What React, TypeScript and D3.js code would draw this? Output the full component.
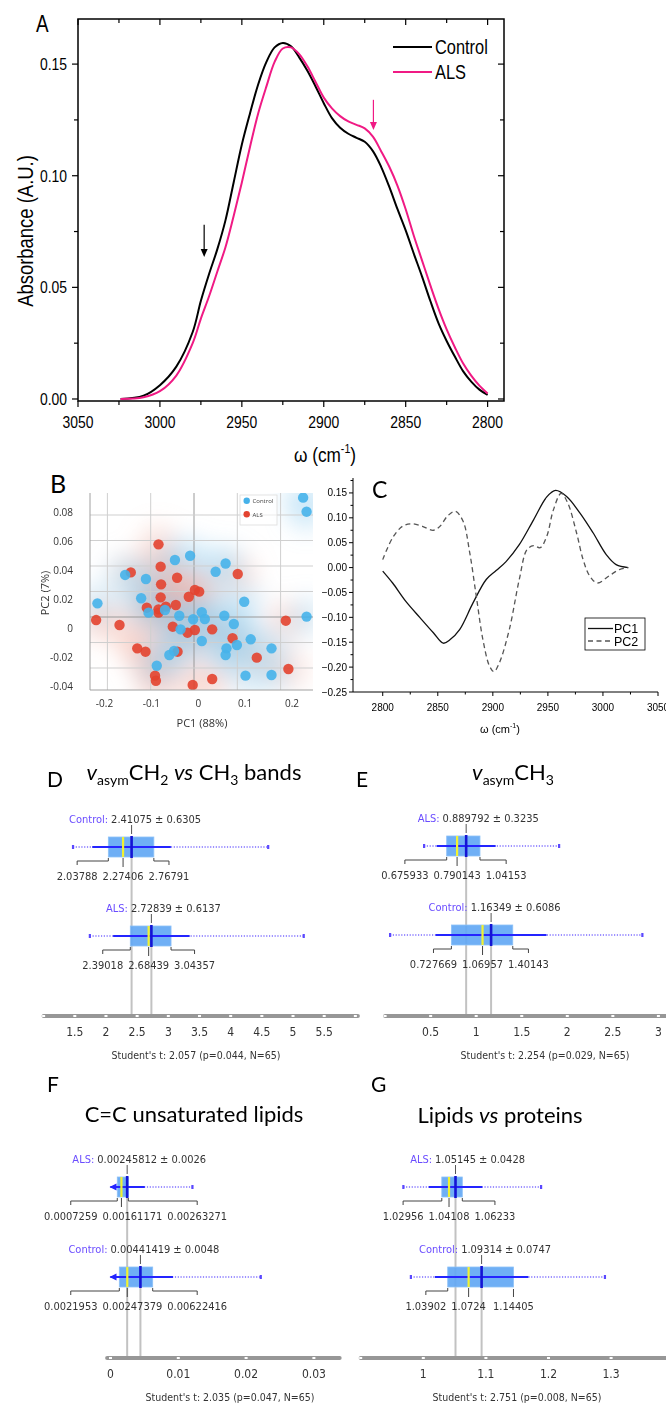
import React from 'react';
import * as d3 from 'd3';

// ---------- A: mean spectra (absorbance vs wavenumber) ----------
const waveA = [3024, 3010, 3000, 2990, 2980, 2975, 2970, 2965, 2960, 2955, 2950, 2945, 2940, 2935, 2930, 2925, 2920, 2915, 2910, 2905, 2900, 2895, 2890, 2885, 2880, 2875, 2870, 2865, 2860, 2855, 2850, 2845, 2840, 2835, 2830, 2825, 2820, 2815, 2810, 2805, 2800];
const controlA = [0, 0.0015, 0.0062, 0.0145, 0.030, 0.044, 0.056, 0.067, 0.080, 0.097, 0.114, 0.128, 0.141, 0.151, 0.1575, 0.1595, 0.158, 0.153, 0.147, 0.140, 0.1325, 0.1258, 0.1215, 0.1188, 0.117, 0.1152, 0.111, 0.104, 0.095, 0.085, 0.0755, 0.065, 0.0548, 0.044, 0.034, 0.026, 0.019, 0.0125, 0.0078, 0.0042, 0.0018];
const alsA = [0, 0.0008, 0.0035, 0.0105, 0.025, 0.036, 0.046, 0.057, 0.068, 0.082, 0.097, 0.113, 0.128, 0.140, 0.151, 0.157, 0.1575, 0.1545, 0.149, 0.142, 0.135, 0.1302, 0.1267, 0.1243, 0.1228, 0.1212, 0.1175, 0.111, 0.104, 0.0955, 0.085, 0.073, 0.062, 0.051, 0.0405, 0.0312, 0.0232, 0.016, 0.0105, 0.006, 0.0025];
const aXTicks = [3050, 3000, 2950, 2900, 2850, 2800];
const aXMinor = [3025, 2975, 2925, 2875, 2825];
const aYTicks = [0, 0.05, 0.10, 0.15];
const aYMinor = [0.025, 0.075, 0.125];
// arrows: wavenumber, start absorbance, tip absorbance
const arrowW = [2973, 2869.7];
const arrowFrom = [0.078, 0.134];
const arrowTo = [0.0636, 0.1205];

// ---------- B: PCA scores ----------
const controlPC1 = [0.252, 0.260, -0.044, -0.009, 0.073, 0.050, -0.159, -0.111, -0.122, -0.223, 0.116, -0.105, -0.067, -0.034, 0.018, 0.025, -0.002, 0.070, 0.260, 0.092, -0.031, 0.018, 0.131, 0.099, 0.075, 0.073, 0.179, -0.046, -0.057, -0.086, 0.119, 0.179];
const controlPC2 = [0.0936, 0.0826, 0.0447, 0.048, 0.042, 0.0355, 0.033, 0.0298, 0.0147, 0.0107, 0.012, 0.0034, 0.0055, 0.001, 0.0037, -0.0016, -0.0018, 0.001, 0.0003, -0.0055, -0.0097, -0.0188, -0.0175, -0.022, -0.0246, -0.0298, -0.0246, -0.0267, -0.0298, -0.0382, -0.046, -0.0455];
const alsPC1 = [-0.082, -0.146, -0.077, -0.039, 0.101, -0.076, 0.002, 0.012, -0.012, -0.077, -0.109, -0.042, -0.065, -0.082, -0.082, -0.226, -0.172, -0.049, 0.002, -0.015, 0.042, 0.212, 0.089, -0.131, -0.112, -0.038, 0.145, 0.218, -0.090, -0.088, -0.003, 0.042];
const alsPC2 = [0.057, 0.035, 0.0395, 0.0308, 0.0337, 0.0256, 0.0212, 0.0199, 0.0159, 0.0154, 0.0073, 0.0094, 0.0081, 0.006, 0.0034, -0.0024, -0.0063, -0.0076, -0.0102, -0.0123, -0.0097, -0.0029, -0.0167, -0.0246, -0.0272, -0.0272, -0.0319, -0.0408, -0.046, -0.050, -0.0533, -0.0486];
const bXTicks = [-0.2, -0.1, 0, 0.1, 0.2];
const bYTicks = [-0.04, -0.02, 0, 0.02, 0.04, 0.06, 0.08];
const bYLabels = ['-0.04', '-0.02', '0', '0.02', '0.04', '0.06', '0.08'];

// ---------- C: PCA loadings ----------
const pc1Load = [[2800, -0.007], [2809, -0.031], [2821, -0.068], [2834, -0.101], [2846, -0.131], [2855, -0.152], [2861, -0.145], [2870, -0.124], [2882, -0.071], [2894, -0.024], [2903, -0.006], [2912, 0.012], [2924, 0.046], [2937, 0.096], [2949, 0.142], [2957, 0.155], [2967, 0.143], [2979, 0.11], [2991, 0.07], [3003, 0.026], [3012, 0.006], [3023, 0.0]];
const pc2Load = [[2800, 0.016], [2809, 0.06], [2818, 0.083], [2826, 0.088], [2836, 0.083], [2846, 0.075], [2852, 0.083], [2859, 0.104], [2866, 0.113], [2873, 0.093], [2879, 0.03], [2885, -0.058], [2891, -0.145], [2897, -0.198], [2901, -0.209], [2906, -0.191], [2915, -0.124], [2924, -0.024], [2931, 0.036], [2937, 0.044], [2943, 0.040], [2949, 0.063], [2955, 0.116], [2962, 0.149], [2968, 0.13], [2976, 0.07], [2982, 0.016], [2988, -0.017], [2995, -0.031], [3006, -0.016], [3015, -0.004], [3023, 0.0]];
const cXTicks = [2800, 2850, 2900, 2950, 3000, 3050];
const cXMinor = [2825, 2875, 2925, 2975, 3025];
const cYTicks = [-0.25, -0.2, -0.15, -0.1, -0.05, 0, 0.05, 0.1, 0.15];
const cYMinor = [-0.225, -0.175, -0.125, -0.075, -0.025, 0.025, 0.075, 0.125, 0.175];

// ---------- D-G: box plots ----------
const dStats = [
  { group: 'Control', mean: 2.41075, sd: 0.6305, q1: 2.03788, median: 2.27406, q3: 2.76791, min: 1.47, max: 4.60, qText: ['2.03788', '2.27406', '2.76791'] },
  { group: 'ALS', mean: 2.72839, sd: 0.6137, q1: 2.39018, median: 2.68439, q3: 3.04357, min: 1.74, max: 5.17, qText: ['2.39018', '2.68439', '3.04357'] },
];
const eStats = [
  { group: 'ALS', mean: 0.889792, sd: 0.3235, q1: 0.675933, median: 0.790143, q3: 1.04153, min: 0.427, max: 1.909, qText: ['0.675933', '0.790143', '1.04153'] },
  { group: 'Control', mean: 1.16349, sd: 0.6086, q1: 0.727669, median: 1.06957, q3: 1.40143, min: 0.054, max: 2.823, qText: ['0.727669', '1.06957', '1.40143'] },
];
const fStats = [
  { group: 'ALS', mean: 0.00245812, sd: 0.0026, q1: 0.0010, median: 0.00161171, q3: 0.00263271, min: 0, max: 0.01207, qText: ['0.0007259', '0.00161171', '0.00263271'] },
  { group: 'Control', mean: 0.00441419, sd: 0.0048, q1: 0.0013, median: 0.00247379, q3: 0.00622416, min: 0, max: 0.02215, qText: ['0.0021953', '0.00247379', '0.00622416'] },
];
const gStats = [
  { group: 'ALS', mean: 1.05145, sd: 0.0428, q1: 1.02956, median: 1.04108, q3: 1.06233, min: 0.968, max: 1.188, qText: ['1.02956', '1.04108', '1.06233'] },
  { group: 'Control', mean: 1.09314, sd: 0.0747, q1: 1.03902, median: 1.0724, q3: 1.14405, min: 0.980, max: 1.290, qText: ['1.03902', '1.0724', '1.14405'] },
];
const dTicks = [1.5, 2, 2.5, 3, 3.5, 4, 4.5, 5, 5.5];
const eTicks = [0.5, 1, 1.5, 2, 2.5, 3];
const fTicks = [0, 0.01, 0.02, 0.03];
const gTicks = [1, 1.1, 1.2, 1.3];

const PINK = '#f01a84';
const ARIAL = "'Liberation Sans', Arial, sans-serif";
const SMALL = "'DejaVu Sans Condensed', 'Liberation Sans', sans-serif";
const TITLE = "Lato, 'Open Sans', sans-serif";

let measureCtx: CanvasRenderingContext2D | null = null;
function textW(s: string, size: number) {
  if (!measureCtx) measureCtx = document.createElement('canvas').getContext('2d');
  measureCtx!.font = `${size}px ${SMALL}`;
  return measureCtx!.measureText(s).width;
}

// panel A text is narrow (condensed) in the original
const narrow = (x: number, y: number, rot = 0) => `translate(${x},${y}) rotate(${rot}) scale(0.82,1)`;

function PanelA() {
  const x = d3.scaleLinear().domain([3050, 2790]).range([78, 504]);
  const y = d3.scaleLinear().domain([-0.0009, 0.1702]).range([401, 19]);
  const line = d3.line<number>().x((_, i) => x(waveA[i])).y(d => y(d)).curve(d3.curveCatmullRom.alpha(0.5));
  const fy = d3.format('.2f');
  const [l, r, t, b] = [78, 504, 19, 401];
  return (
    <g>
      <text transform={narrow(36, 32)} fontFamily={ARIAL} fontSize={23}>A</text>
      <rect x={l} y={t} width={r - l} height={b - t} fill="none" stroke="#000" strokeWidth={1.5} />
      {aXTicks.concat(aXMinor).map((v, i) => {
        const len = i < aXTicks.length ? 6 : 4;
        return (
          <g key={'xt' + i}>
            <line x1={x(v)} x2={x(v)} y1={b} y2={b + len} stroke="#000" strokeWidth={1.2} />
            <line x1={x(v)} x2={x(v)} y1={t} y2={t + len} stroke="#000" strokeWidth={1.2} />
          </g>
        );
      })}
      {aYTicks.concat(aYMinor).map((v, i) => {
        const len = i < aYTicks.length ? 6 : 4;
        return (
          <g key={'yt' + i}>
            <line x1={l - len} x2={l} y1={y(v)} y2={y(v)} stroke="#000" strokeWidth={1.2} />
            <line x1={r - len} x2={r} y1={y(v)} y2={y(v)} stroke="#000" strokeWidth={1.2} />
          </g>
        );
      })}
      {aXTicks.map(v => (
        <text key={'xl' + v} transform={narrow(x(v), 428)} textAnchor="middle" fontFamily={ARIAL} fontSize={17}>{v}</text>
      ))}
      {aYTicks.map(v => (
        <text key={'yl' + v} transform={narrow(67, y(v) + 6)} textAnchor="end" fontFamily={ARIAL} fontSize={17}>{fy(v)}</text>
      ))}
      <text transform={narrow(33, 231, -90)} textAnchor="middle" fontFamily={ARIAL} fontSize={22.5}>Absorbance (A.U.)</text>
      <text transform={narrow(325, 462)} textAnchor="middle" fontFamily={ARIAL} fontSize={21}>
        ω (cm<tspan fontSize={13} dy={-9}>-1</tspan><tspan dy={9}>)</tspan>
      </text>
      <path d={line(controlA)!} fill="none" stroke="#000" strokeWidth={2} />
      <path d={line(alsA)!} fill="none" stroke={PINK} strokeWidth={2} />
      {arrowW.map((w, i) => {
        const c = i === 0 ? '#000' : PINK;
        const ax = x(w), y0 = y(arrowFrom[i]), y1 = y(arrowTo[i]);
        return (
          <g key={'ar' + i}>
            <line x1={ax} x2={ax} y1={y0} y2={y1 - 6} stroke={c} strokeWidth={1.2} />
            <path d={`M${ax - 3.5},${y1 - 8}L${ax + 3.5},${y1 - 8}L${ax},${y1}Z`} fill={c} />
          </g>
        );
      })}
      <line x1={393} x2={432} y1={47} y2={47} stroke="#000" strokeWidth={2} />
      <line x1={393} x2={432} y1={72} y2={72} stroke={PINK} strokeWidth={2} />
      <text transform={narrow(435, 54)} fontFamily={ARIAL} fontSize={20}>Control</text>
      <text transform={narrow(435, 79)} fontFamily={ARIAL} fontSize={20}>ALS</text>
    </g>
  );
}

function PanelB() {
  const [l, r, t, b] = [90, 313, 493, 690];
  const x = d3.scaleLinear().domain([-0.2, 0.2]).range([107.4, 280.6]);
  const y = d3.scaleLinear().domain([-0.04, 0.08]).range([668, 515]);
  // the printed tick labels sit on a slightly different scale than the grid
  const xl = d3.scaleLinear().domain([-0.2, 0.2]).range([104.5, 292]);
  const yl = d3.scaleLinear().domain([-0.04, 0.08]).range([686, 512]);
  const ctrl = controlPC1.map((v, i) => [v, controlPC2[i]]);
  const als = alsPC1.map((v, i) => [v, alsPC2[i]]);
  const font = "'Open Sans', 'Noto Sans', sans-serif";
  return (
    <g>
      <defs>
        <clipPath id="clipB"><rect x={l} y={t} width={r - l} height={b - t} /></clipPath>
        <filter id="blurB" filterUnits="userSpaceOnUse" x={l - 60} y={t - 60} width={r - l + 120} height={b - t + 120}>
          <feGaussianBlur stdDeviation={11} />
        </filter>
      </defs>
      <text x={50} y={493} fontFamily={TITLE} fontSize={25}>B</text>
      <g clipPath="url(#clipB)">
        <rect x={l} y={t} width={r - l} height={b - t} fill="#fff" />
        <g filter="url(#blurB)">
          {als.map((d, i) => <circle key={'ba' + i} cx={x(d[0])} cy={y(d[1])} r={20} fill="#f0a090" opacity={0.28} />)}
          {ctrl.map((d, i) => <circle key={'bc' + i} cx={x(d[0])} cy={y(d[1])} r={20} fill="#92cdee" opacity={0.3} />)}
        </g>
        {bXTicks.map(v => <line key={'gx' + v} x1={x(v)} x2={x(v)} y1={t} y2={b} stroke={v === 0 ? '#9a9a9a' : '#cfcfcf'} strokeWidth={1} />)}
        {bYTicks.map(v => <line key={'gy' + v} x1={l} x2={r} y1={y(v)} y2={y(v)} stroke={v === 0 ? '#9a9a9a' : '#cfcfcf'} strokeWidth={1} />)}
        {als.map((d, i) => <circle key={'pa' + i} cx={x(d[0])} cy={y(d[1])} r={5.2} fill="#e3432f" fillOpacity={0.9} />)}
        {ctrl.map((d, i) => <circle key={'pc' + i} cx={x(d[0])} cy={y(d[1])} r={5.2} fill="#46b2ea" fillOpacity={0.9} />)}
      </g>
      <line x1={l} x2={l} y1={t} y2={b} stroke="#a0a0a0" />
      <line x1={l} x2={r} y1={b} y2={b} stroke="#a0a0a0" />
      <rect x={240} y={495} width={37} height={30} fill="#fff" fillOpacity={0.6} stroke="#ddd" strokeWidth={0.8} />
      <circle cx={246.7} cy={500.7} r={3.2} fill="#46b2ea" />
      <circle cx={246.7} cy={514.3} r={3.2} fill="#e3432f" />
      <text x={252.5} y={503} fontFamily={font} fontSize={6} fill="#444">Control</text>
      <text x={252.5} y={516.5} fontFamily={font} fontSize={6} fill="#444">ALS</text>
      {bXTicks.map(v => <text key={'xl' + v} x={xl(v)} y={707} textAnchor="middle" fontFamily={font} fontSize={10} fill="#333">{String(v)}</text>)}
      {bYTicks.map((v, i) => <text key={'yl' + v} x={73} y={yl(v) + 3.5} textAnchor="end" fontFamily={font} fontSize={10} fill="#333">{bYLabels[i]}</text>)}
      <text x={202} y={727} textAnchor="middle" fontFamily={font} fontSize={11} fill="#333">PC1 (88%)</text>
      <text transform="translate(49,593) rotate(-90)" textAnchor="middle" fontFamily={font} fontSize={11} fill="#333">PC2 (7%)</text>
    </g>
  );
}

function PanelC() {
  const x = d3.scaleLinear().domain([2773, 3050]).range([353, 658]);
  const y = d3.scaleLinear().domain([-0.25, 0.18]).range([692, 478]);
  const ln = d3.line<number[]>().x(d => x(d[0])).y(d => y(d[1])).curve(d3.curveCatmullRom.alpha(0.5));
  const fy = d3.format('.2f');
  return (
    <g fontFamily={ARIAL}>
      <text x={372} y={498} fontFamily={TITLE} fontSize={23}>C</text>
      <line x1={353} x2={353} y1={478} y2={692} stroke="#000" strokeWidth={1} />
      <line x1={353} x2={658} y1={692} y2={692} stroke="#000" strokeWidth={1} />
      {cYTicks.map(v => <line key={'yt' + v} x1={349} x2={353} y1={y(v)} y2={y(v)} stroke="#000" />)}
      {cYMinor.map(v => <line key={'ym' + v} x1={350.5} x2={353} y1={y(v)} y2={y(v)} stroke="#000" />)}
      {cXTicks.map(v => <line key={'xt' + v} x1={x(v)} x2={x(v)} y1={692} y2={696} stroke="#000" />)}
      {cXMinor.map(v => <line key={'xm' + v} x1={x(v)} x2={x(v)} y1={692} y2={694.5} stroke="#000" />)}
      {cYTicks.map(v => <text key={'yl' + v} x={347} y={y(v) + 3.5} textAnchor="end" fontSize={10}>{fy(v)}</text>)}
      {cXTicks.map(v => <text key={'xl' + v} x={x(v)} y={711} textAnchor="middle" fontSize={10}>{v}</text>)}
      <text x={500} y={733} textAnchor="middle" fontSize={11}>
        ω (cm<tspan fontSize={7} dy={-5}>-1</tspan><tspan dy={5}>)</tspan>
      </text>
      <path d={ln(pc1Load)!} fill="none" stroke="#111" strokeWidth={1.3} />
      <path d={ln(pc2Load)!} fill="none" stroke="#555" strokeWidth={1.3} strokeDasharray="5,3.5" />
      <rect x={585} y={618} width={60} height={32} fill="#fff" stroke="#000" strokeWidth={0.8} />
      <line x1={588} x2={613} y1={628.5} y2={628.5} stroke="#111" strokeWidth={1.3} />
      <line x1={588} x2={613} y1={641} y2={641} stroke="#555" strokeWidth={1.3} strokeDasharray="5,3.5" />
      <text x={614} y={633} fontSize={12.5}>PC1</text>
      <text x={614} y={645.5} fontSize={12.5}>PC2</text>
    </g>
  );
}

type Stat = { group: string; mean: number; sd: number; q1: number; median: number; q3: number; min: number; max: number; qText: string[] };
type BoxCfg = {
  letter: string; letterX: number; letterY: number; title: React.ReactNode;
  stats: Stat[]; tops: number[]; domain: number[]; range: number[]; extent: number[]; step: number;
  ticks: number[]; axisY: number; caption: string; captionX: number; leftBound: number; clipMin: number;
};

function BoxPanel({ cfg }: { cfg: BoxCfg }) {
  const x = d3.scaleLinear().domain(cfg.domain).range(cfg.range);
  const H = 20;
  const LF = 11;
  const gaps = d3.range(Math.round(cfg.extent[0] / cfg.step), Math.floor(cfg.extent[1] / cfg.step + 1e-6) + 1).map(k => k * cfg.step);
  return (
    <g>
      <text x={cfg.letterX} y={cfg.letterY} fontFamily={TITLE} fontSize={21}>{cfg.letter}</text>
      {cfg.title}
      {cfg.stats.map((s, i) => (
        <line key={'gl' + i} x1={x(s.mean)} x2={x(s.mean)} y1={cfg.tops[i] + H} y2={cfg.axisY} stroke="#c2c2c2" strokeWidth={2} />
      ))}
      {cfg.stats.map((s, i) => {
        const T = cfg.tops[i];
        const cy = T + H / 2;
        const mx = x(s.mean);
        const loRaw = s.mean - s.sd;
        const clipped = loRaw < cfg.clipMin;
        const lo = x(clipped ? cfg.clipMin : loRaw);
        const hi = x(s.mean + s.sd);
        const meanTxt = String(s.mean);
        const wMean = textW(meanTxt, LF);
        const wq = s.qText.map(q => textW(q, LF));
        const g = 5;
        const xq1 = x(s.q1), xmd = x(s.median), xq3 = x(s.q3);
        let c1 = Math.min(xq1, xmd - wq[1] / 2 - g - wq[0] / 2);
        c1 = Math.max(c1, cfg.leftBound + wq[0] / 2);
        const cm = Math.max(xmd, c1 + wq[0] / 2 + g + wq[1] / 2);
        const c3 = Math.max(xq3, cm + wq[1] / 2 + g + wq[2] / 2);
        const by = T + H + 4;
        const br = (edge: number, c: number) => Math.abs(c - edge) > 0.5
          ? `M${edge},${T + H + 1}V${by}H${c}V${by + 4}`
          : `M${edge},${T + H + 2}V${T + H + 10}`;
        return (
          <g key={'row' + i}>
            <line x1={x(s.min)} x2={x(s.max)} y1={cy} y2={cy} stroke="#7d6dff" strokeWidth={1.6} strokeDasharray="1.2,1.6" />
            {s.min > cfg.clipMin - 1e-9 && !clipped && <rect x={x(s.min) - 1} y={cy - 2} width={2.2} height={4} fill="#5a48ff" />}
            <rect x={x(s.max) - 1} y={cy - 2} width={2.2} height={4} fill="#5a48ff" />
            <rect x={xq1} y={T} width={xq3 - xq1} height={H} fill="#63a8f4" fillOpacity={0.92} stroke="#8ec2f8" strokeWidth={0.8} />
            <line x1={lo} x2={hi} y1={cy} y2={cy} stroke="#2424ff" strokeWidth={2.2} />
            {clipped && <path d={`M${lo - 1},${cy}L${lo + 6},${cy - 3.5}L${lo + 6},${cy + 3.5}Z`} fill="#2424ff" />}
            <line x1={xmd} x2={xmd} y1={T} y2={T + H} stroke="#f2f230" strokeWidth={2.2} />
            <line x1={mx} x2={mx} y1={T - 1} y2={T + H + 1} stroke="#1414d4" strokeWidth={2.6} />
            <line x1={mx} x2={mx} y1={T - 12} y2={T - 3} stroke="#555" strokeWidth={1} />
            <text x={mx} y={T - 14} textAnchor="middle" fontFamily={SMALL} fontSize={LF} fill="#333">{meanTxt}</text>
            <text x={mx - wMean / 2 - 3} y={T - 14} textAnchor="end" fontFamily={SMALL} fontSize={LF} fill="#6a4cff">{s.group}:</text>
            <text x={mx + wMean / 2 + 3} y={T - 14} fontFamily={SMALL} fontSize={LF} fill="#333">± {String(s.sd)}</text>
            <path d={br(xq1, c1)} fill="none" stroke="#444" strokeWidth={1} />
            <path d={`M${xmd},${T + H + 1}V${T + H + 10}`} fill="none" stroke="#444" strokeWidth={1} />
            <path d={br(xq3, c3)} fill="none" stroke="#444" strokeWidth={1} />
            <text x={c1} y={T + H + 23} textAnchor="middle" fontFamily={SMALL} fontSize={LF} fill="#333">{s.qText[0]}</text>
            <text x={cm} y={T + H + 23} textAnchor="middle" fontFamily={SMALL} fontSize={LF} fill="#333">{s.qText[1]}</text>
            <text x={c3} y={T + H + 23} textAnchor="middle" fontFamily={SMALL} fontSize={LF} fill="#333">{s.qText[2]}</text>
          </g>
        );
      })}
      <line x1={x(cfg.extent[0])} x2={x(cfg.extent[1])} y1={cfg.axisY} y2={cfg.axisY} stroke="#979797" strokeWidth={4} strokeLinecap="round" />
      {gaps.map((v, i) => <rect key={'gp' + i} x={x(v) - 1.5} y={cfg.axisY - 1} width={3} height={2} fill="#fff" />)}
      {cfg.ticks.map(v => (
        <text key={'tk' + v} x={x(v)} y={cfg.axisY + 20} textAnchor="middle" fontFamily={SMALL} fontSize={12} fill="#333">{String(v)}</text>
      ))}
      <text x={cfg.captionX} y={cfg.axisY + 43} textAnchor="middle" fontFamily={SMALL} fontSize={10.5} fill="#333">{cfg.caption}</text>
    </g>
  );
}

const sub = (s: string) => <tspan fontSize={14} dy={5}>{s}</tspan>;

const titleD = (
  <text x={194} y={780} textAnchor="middle" fontFamily={TITLE} fontSize={22} fill="#000">
    <tspan fontStyle="italic">v</tspan>{sub('asym')}<tspan dy={-5}>CH</tspan>{sub('2')}<tspan dy={-5}>{' '}</tspan>
    <tspan fontStyle="italic">vs</tspan><tspan> CH</tspan>{sub('3')}<tspan dy={-5}> bands</tspan>
  </text>
);
const titleE = (
  <text x={513} y={780} textAnchor="middle" fontFamily={TITLE} fontSize={22} fill="#000">
    <tspan fontStyle="italic">v</tspan>{sub('asym')}<tspan dy={-5}>CH</tspan>{sub('3')}
  </text>
);
const titleF = (
  <text x={194} y={1122} textAnchor="middle" fontFamily={TITLE} fontSize={22} fill="#000">C=C unsaturated lipids</text>
);
const titleG = (
  <text x={500} y={1123} textAnchor="middle" fontFamily={TITLE} fontSize={22} fill="#000">
    Lipids <tspan fontStyle="italic">vs</tspan> proteins
  </text>
);

const panels: BoxCfg[] = [
  { letter: 'D', letterX: 47, letterY: 787, title: titleD, stats: dStats, tops: [837, 926], domain: [1.5, 5.5], range: [74.8, 324.2], extent: [1.0, 6.04], step: 0.5, ticks: dTicks, axisY: 1016, caption: "Student's t: 2.057 (p=0.044, N=65)", captionX: 196, leftBound: 42, clipMin: 1.0 },
  { letter: 'E', letterX: 356, letterY: 787, title: titleE, stats: eStats, tops: [836, 925], domain: [0.5, 3], range: [430.65, 658.4], extent: [0, 3.08], step: 0.5, ticks: eTicks, axisY: 1016, caption: "Student's t: 2.254 (p=0.029, N=65)", captionX: 545, leftBound: 355, clipMin: 0 },
  { letter: 'F', letterX: 47, letterY: 1092, title: titleF, stats: fStats, tops: [1177, 1267], domain: [0, 0.03], range: [110.5, 313.9], extent: [-0.0005, 0.0338], step: 0.01, ticks: fTicks, axisY: 1358, caption: "Student's t: 2.035 (p=0.047, N=65)", captionX: 230, leftBound: 44, clipMin: 0 },
  { letter: 'G', letterX: 371, letterY: 1092, title: titleG, stats: gStats, tops: [1177, 1267], domain: [1, 1.3], range: [423.3, 611.1], extent: [0.9, 1.39], step: 0.1, ticks: gTicks, axisY: 1358, caption: "Student's t: 2.751 (p=0.008, N=65)", captionX: 517, leftBound: 355, clipMin: 0.9 },
];

export default function App() {
  return (
    <svg width={666} height={1405} style={{ position: 'absolute', left: 0, top: 0, background: '#fff' }}>
      <rect x={0} y={0} width={666} height={1405} fill="#fff" />
      <PanelA />
      <PanelB />
      <PanelC />
      {panels.map(p => <BoxPanel key={p.letter} cfg={p} />)}
    </svg>
  );
}
